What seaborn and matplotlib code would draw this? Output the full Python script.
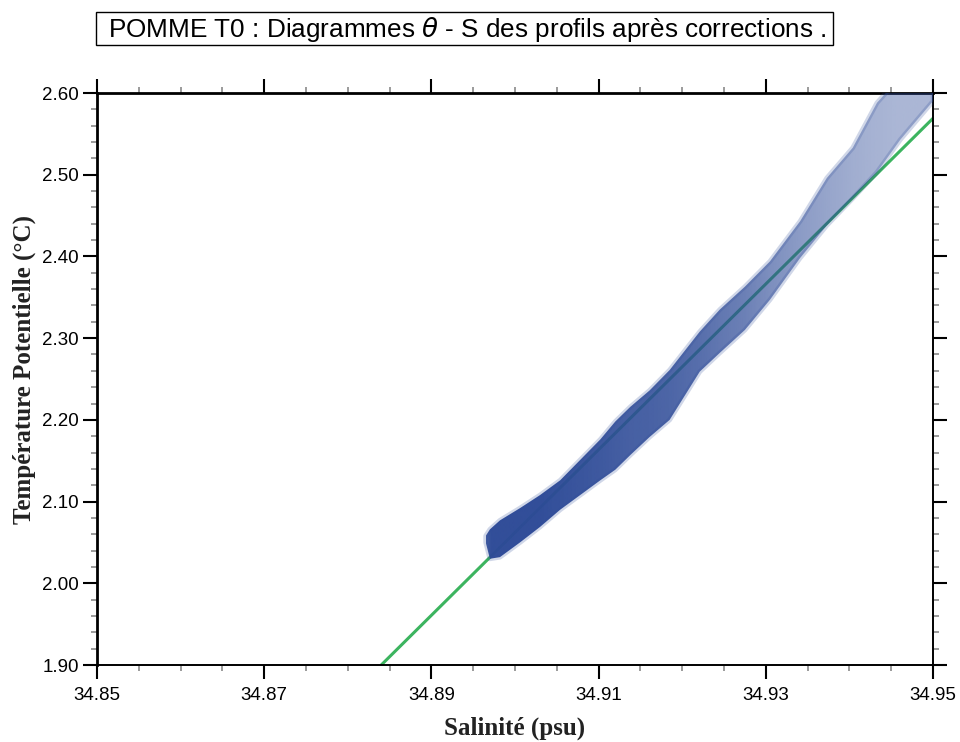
import numpy as np
import matplotlib
matplotlib.use("Agg")
import matplotlib.pyplot as plt
import seaborn as sns
from matplotlib.ticker import FixedLocator, FormatStrFormatter
from matplotlib.colors import to_rgb
from matplotlib.patches import Rectangle

# Envelope of the theta-S cloud of all corrected profiles
salinity = [34.8965, 34.8970, 34.8982, 34.9006, 34.9030, 34.9054, 34.9078, 34.9102,
            34.9120, 34.9138, 34.9161, 34.9185, 34.9221, 34.9245, 34.9275, 34.9305,
            34.9341, 34.9373, 34.9404, 34.9433, 34.9461, 34.9500]
theta_upper = [2.058, 2.066, 2.077, 2.092, 2.108, 2.126, 2.151, 2.176,
               2.198, 2.216, 2.236, 2.261, 2.308, 2.335, 2.363, 2.394,
               2.443, 2.496, 2.533, 2.588, 2.620, 2.650]
theta_lower = [2.050, 2.030, 2.032, 2.050, 2.069, 2.090, 2.108, 2.126,
               2.139, 2.157, 2.179, 2.200, 2.259, 2.282, 2.310, 2.347,
               2.398, 2.438, 2.471, 2.503, 2.543, 2.590]
# how tightly the points are packed along the cloud (1 = solid)
cloud_density = [0.9, 0.98, 0.98, 0.98, 0.98, 0.96, 0.94, 0.92,
                 0.9, 0.88, 0.87, 0.85, 0.8, 0.75, 0.7, 0.62,
                 0.55, 0.5, 0.45, 0.42, 0.4, 0.4]

# Reference theta-S line
line_salinity = [34.884, 34.950]
line_theta = [1.900, 2.569]

# Axis ticks
x_major = [34.85, 34.87, 34.89, 34.91, 34.93, 34.95]
x_minor = [34.855, 34.86, 34.865, 34.875, 34.88, 34.885, 34.895, 34.90, 34.905,
           34.915, 34.92, 34.925, 34.935, 34.94, 34.945]
y_major = [1.90, 2.00, 2.10, 2.20, 2.30, 2.40, 2.50, 2.60]
y_minor = [v for k in range(7) for v in
           [1.92 + 0.1 * k, 1.94 + 0.1 * k, 1.96 + 0.1 * k, 1.98 + 0.1 * k]]

title = r"POMME T0 : Diagrammes $\theta$ - S des profils après corrections ."
xlabel = "Salinité (psu)"
ylabel = "Température Potentielle (°C)"

sns.set_theme(style="ticks")
plt.rcParams["font.family"] = ["Liberation Sans", "DejaVu Sans"]
plt.rcParams["mathtext.fontset"] = "dejavusans"
plt.rcParams["text.color"] = "black"

fig = plt.figure(figsize=(9.6, 7.42), dpi=100)
ax = fig.add_axes([97 / 960, 1 - 665 / 742, (933 - 97) / 960, (665 - 93) / 742])

sns.lineplot(x=line_salinity, y=line_theta, ax=ax, color="#3cb45f", lw=2.2, zorder=2)

dot_color = "#2d4a97"
# soft fringe of scattered points along the cloud edges
ax.fill_between(salinity, theta_lower, theta_upper, facecolor="none",
                edgecolor=(*to_rgb(dot_color), 0.22), linewidth=3.5, zorder=3)
band = ax.fill_between(salinity, theta_lower, theta_upper, facecolor="none",
                       edgecolor="none", zorder=3)
clip_path = band.get_paths()[0]
xs = np.linspace(salinity[0], salinity[-1], 400)
alpha = np.interp(xs, salinity, cloud_density)
rgba = np.zeros((1, xs.size, 4))
rgba[..., :3] = to_rgb(dot_color)
rgba[..., 3] = alpha
im = ax.imshow(rgba, extent=[salinity[0], salinity[-1], min(theta_lower), max(theta_upper)],
               aspect="auto", origin="lower", interpolation="bilinear", zorder=3)
im.set_clip_path(clip_path, transform=ax.transData)

ax.set_xlim(34.85, 34.95)
ax.set_ylim(1.90, 2.60)
ax.xaxis.set_major_locator(FixedLocator(x_major))
ax.xaxis.set_minor_locator(FixedLocator(x_minor))
ax.yaxis.set_major_locator(FixedLocator(y_major))
ax.yaxis.set_minor_locator(FixedLocator(y_minor))
ax.xaxis.set_major_formatter(FormatStrFormatter("%.2f"))
ax.yaxis.set_major_formatter(FormatStrFormatter("%.2f"))

ax.tick_params(which="both", direction="out", top=True, right=True,
               labeltop=False, labelright=False, colors="black")
ax.tick_params(which="major", length=10, width=1.5, labelsize=13.5, pad=3)
ax.tick_params(axis="x", which="major", pad=6)
ax.tick_params(which="minor", length=4.5, width=1.1, color="#808080")

for side in ["left", "top"]:
    ax.spines[side].set_linewidth(2.0)
for side in ["right", "bottom"]:
    ax.spines[side].set_linewidth(1.4)
for s in ax.spines.values():
    s.set_color("black")
    s.set_visible(True)

label_font = dict(family=["Liberation Serif", "DejaVu Serif"], weight="bold", size=18,
                  color="#222222")
fig.text(515 / 960, 1 - 728 / 742, xlabel, ha="center", va="center", **label_font)
fig.text(24 / 960, 1 - 370 / 742, ylabel, ha="center", va="center",
         rotation=90, **label_font)

# boxed title
fig.patches.append(Rectangle((96 / 960, 1 - 45 / 742), (833 - 96) / 960, 33 / 742,
                             transform=fig.transFigure, facecolor="white",
                             edgecolor="black", lw=1.0))
fig.text(467 / 960, 1 - 29 / 742, title, ha="center", va="center", fontsize=18.8,
         color="black")

fig.savefig("out.png", dpi=100)
